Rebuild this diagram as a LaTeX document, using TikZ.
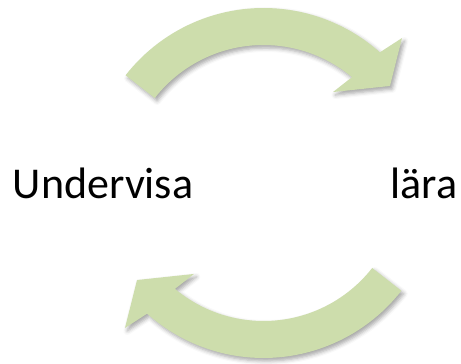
\documentclass[tikz,border=0pt]{standalone}
\usepackage{fontspec}
\setmainfont{Carlito}
\usetikzlibrary{shadows.blur}

\definecolor{arrowgreen}{RGB}{205,221,172}

\tikzset{
  curvedarrow/.style={fill=arrowgreen, draw=none,
    blur shadow={shadow xshift=1.2pt, shadow yshift=-1.5pt,
      shadow blur radius=2pt, shadow opacity=35}},
  word/.style={font=\fontsize{22}{26}\selectfont, inner sep=0pt}
}

\begin{document}
\begin{tikzpicture}[x=0.5pt,y=0.5pt]
        % Fix the page size
        \useasboundingbox (-263.5,-181) rectangle (197.5,183);

        % Upper arrow, going right
        \fill[curvedarrow] (142:175) arc[start angle=142,end angle=48.3,radius=175]
            -- (46.3:200.5) -- (37.5:159.4) -- (52.6:114.5)
            -- (50.1:138) arc[start angle=50.1,end angle=142,radius=138] -- cycle;

        % Lower arrow, the same turned round
        \begin{scope}[rotate=180]
        \fill[curvedarrow] (142:175) arc[start angle=142,end angle=48.3,radius=175]
            -- (46.3:200.5) -- (37.5:159.4) -- (52.6:114.5)
            -- (50.1:138) arc[start angle=50.1,end angle=142,radius=138] -- cycle;
        \end{scope}

        % Labels
        \node[word,anchor=base west] (undervisa) at (-251,-16) {Undervisa};
        \node[word,anchor=base east] (lara) at (194,-16) {lära};
    \end{tikzpicture}
\end{document}
